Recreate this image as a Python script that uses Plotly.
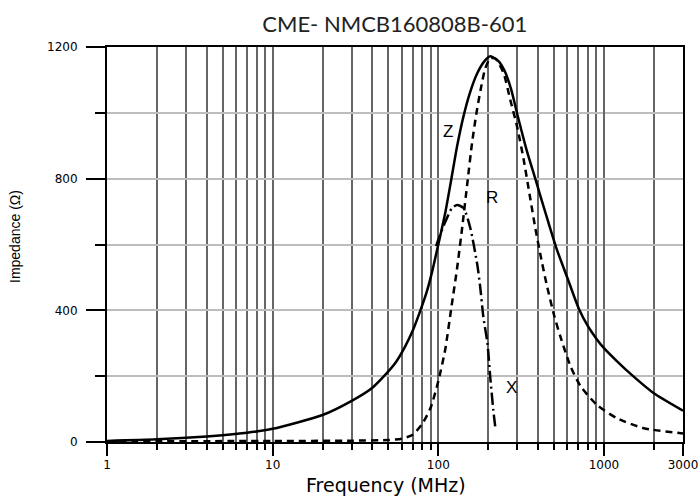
import math
import plotly.graph_objects as go

# Impedance |Z|
z_freq = [1, 2, 4, 7, 10, 20, 30, 40, 47, 55, 63, 70, 78, 85, 92, 100, 110, 119, 130, 142,
          155, 171, 190, 206, 230, 250, 275, 300, 340, 385, 413, 460, 521, 600, 705,
          800, 900, 1000, 1200, 1500, 2000, 3000]
z_val = [3, 8, 17, 28, 40, 82, 125, 165, 200, 240, 290, 338, 400, 455, 520, 600, 695, 790, 900, 990,
         1060, 1118, 1157, 1172, 1158, 1130, 1072, 995, 890, 800, 748, 670, 583, 500, 405,
         352, 314, 285, 245, 200, 148, 95]

# Resistance R
r_freq = [1, 10, 30, 50, 60, 70, 80, 90, 100, 110, 120, 130, 140, 150, 160, 170,
          180, 192, 206, 221, 248, 272, 299, 327, 359, 385, 413, 450, 500, 546, 628,
          721, 910, 1199, 1740, 3000]
r_val = [2, 3, 4, 6, 10, 22, 55, 105, 185, 280, 410, 530, 660, 790, 910, 1000,
         1070, 1135, 1166, 1165, 1120, 1039, 958, 860, 740, 650, 570, 480, 385, 320, 230,
         170, 112, 72, 42, 26]

# Reactance X (visible part)
x_freq = [97, 100, 110, 121, 130, 142, 156, 172, 179, 187, 198, 206, 215, 221]
x_val = [595, 615, 668, 711, 720, 711, 650, 538, 471, 380, 300, 195, 95, 43]

x_tickvals = [1, 10, 100, 1000, 3000]
x_ticktext = ["1", "10", "100", "1000", "3000"]
x_minor = [m * d for d in (1, 10, 100) for m in range(2, 10)] + [1000, 2000]
y_tickvals = [0, 400, 800, 1200]
y_minor = [200, 600, 1000]

# curve labels: (text, frequency MHz, impedance)
labels = [("Z", 115, 942), ("R", 212, 744), ("X", 276, 167)]

fig = go.Figure()
fig.add_trace(go.Scatter(x=z_freq, y=z_val, mode="lines",
                         line=dict(color="black", width=2.5, shape="spline", smoothing=0.6)))
fig.add_trace(go.Scatter(x=r_freq, y=r_val, mode="lines",
                         line=dict(color="black", width=2.5, dash="7px,5px", shape="spline", smoothing=0.6)))
fig.add_trace(go.Scatter(x=x_freq, y=x_val, mode="lines",
                         line=dict(color="black", width=2.5, dash="12px,4px,2px,4px", shape="spline", smoothing=0.6)))

for t, fx, fy in labels:
    fig.add_annotation(x=math.log10(fx), y=fy, xref="x", yref="y", text=t, showarrow=False,
                       font=dict(family="Liberation Sans, Arial", size=17, color="black"))

# axis titles
fig.add_annotation(x=0.484, y=-0.1101, xref="paper", yref="paper", text="Frequency (MHz)",
                   showarrow=False, xanchor="center", yanchor="middle",
                   font=dict(family="DejaVu Sans", size=19, color="black"))
fig.add_annotation(x=-0.1597, y=0.519, xref="paper", yref="paper", text="Impedance (Ω)",
                   showarrow=False, xanchor="center", yanchor="middle", textangle=-90,
                   font=dict(family="Liberation Sans Narrow, Liberation Sans, Arial", size=14, color="black"))

fig.update_layout(
    width=700, height=498,
    margin=dict(l=107, r=17, t=47, b=56),
    paper_bgcolor="white", plot_bgcolor="white",
    showlegend=False,
    title=dict(text="CME- NMCB160808B-601", x=0.564, xanchor="center", y=0.952, yanchor="middle",
               font=dict(family="Lato, Open Sans", size=22, color="#222")),
)
fig.update_xaxes(
    type="log", range=[0, 3.4771],
    tickvals=x_tickvals, ticktext=x_ticktext,
    ticks="outside", ticklen=12, tickwidth=2, tickcolor="black",
    showgrid=True, gridcolor="#666666", gridwidth=1.5,
    minor=dict(tickvals=x_minor, ticks="outside", ticklen=6, tickwidth=2, tickcolor="black",
               showgrid=True, gridcolor="#666666", gridwidth=1.5),
    showline=True, linecolor="black", linewidth=2, mirror=True,
    zeroline=False, automargin=False,
    ticklabelstandoff=-1,
    tickfont=dict(family="DejaVu Sans", size=12, color="black"),
)
fig.update_yaxes(
    range=[0, 1200],
    tickvals=y_tickvals,
    ticks="outside", ticklen=19, tickwidth=2, tickcolor="black",
    showgrid=True, gridcolor="#bdbdbd", gridwidth=1.5,
    minor=dict(tickvals=y_minor, ticks="outside", ticklen=10, tickwidth=2, tickcolor="black",
               showgrid=True, gridcolor="#bdbdbd", gridwidth=1.5),
    showline=True, linecolor="black", linewidth=2, mirror=True,
    zeroline=False, automargin=False,
    ticklabelstandoff=6,
    tickfont=dict(family="DejaVu Sans", size=12, color="black"),
)

fig.write_html("out.html", config={"displayModeBar": False},
               post_script="document.body.style.margin='0';document.body.style.overflow='hidden';")
